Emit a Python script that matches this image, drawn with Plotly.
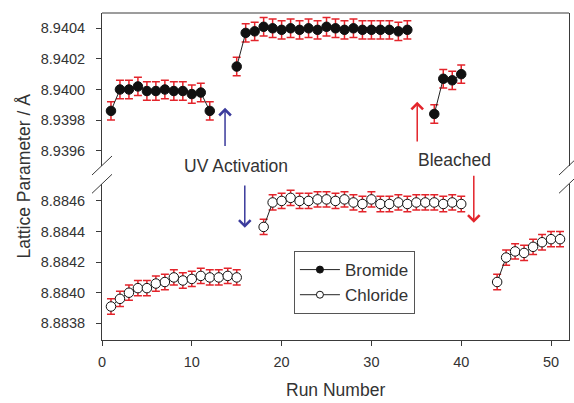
import plotly.graph_objects as go

# ---------------- data ----------------
bromide_runs = [1, 2, 3, 4, 5, 6, 7, 8, 9, 10, 11, 12, None,
                15, 16, 17, 18, 19, 20, 21, 22, 23, 24, 25, 26, 27, 28, 29, 30, 31, 32, 33, 34, None,
                37, 38, 39, 40]
bromide_lattice = [8.93986, 8.94000, 8.94000, 8.94002, 8.93999, 8.93999, 8.94000, 8.93999, 8.93999, 8.93997, 8.93998, 8.93986, None,
                   8.94015, 8.94037, 8.94038, 8.94041, 8.94040, 8.94039, 8.94040, 8.94039, 8.94040, 8.94039, 8.94041,
                   8.94040, 8.94039, 8.94040, 8.94039, 8.94039, 8.94039, 8.94039, 8.94038, 8.94039, None,
                   8.93984, 8.94007, 8.94006, 8.94010]
bromide_err = 0.00006

chloride_runs = [1, 2, 3, 4, 5, 6, 7, 8, 9, 10, 11, 12, 13, 14, 15, None,
                 18, 19, 20, 21, 22, 23, 24, 25, 26, 27, 28, 29, 30, 31, 32, 33, 34, 35, 36, 37, 38, 39, 40, None,
                 44, 45, 46, 47, 48, 49, 50, 51]
chloride_lattice = [8.88391, 8.88396, 8.88400, 8.88403, 8.88403, 8.88406, 8.88407, 8.88410, 8.88408, 8.88409,
                    8.88411, 8.88410, 8.88410, 8.88411, 8.88410, None,
                    8.88443, 8.88459, 8.88460, 8.88462, 8.88460, 8.88460, 8.88461, 8.88461, 8.88460, 8.88461,
                    8.88459, 8.88458, 8.88461, 8.88458, 8.88458, 8.88459, 8.88458, 8.88459, 8.88459, 8.88459,
                    8.88458, 8.88459, 8.88458, None,
                    8.88407, 8.88423, 8.88427, 8.88426, 8.88430, 8.88433, 8.88435, 8.88435]
chloride_err = 0.00005

x_ticks = [0, 10, 20, 30, 40, 50]
top_ticks = [8.9396, 8.9398, 8.9400, 8.9402, 8.9404]
bottom_ticks = [8.8838, 8.8840, 8.8842, 8.8844, 8.8846]

# ---------------- style ----------------
FONT = "Liberation Sans, Arial, sans-serif"
AX = "#3a3a3a"
ERR = "#e3242b"
BLUE = "#3b3b9c"
RED = "#e3242b"
TXT = "#333333"

TOP_DOM = [0.5336, 1.0]
BOT_DOM = [0.0, 0.4777]

fig = go.Figure()

fig.add_trace(go.Scatter(
    x=bromide_runs, y=bromide_lattice, xaxis="x", yaxis="y2",
    mode="lines+markers", showlegend=False,
    line=dict(color="#222222", width=1),
    marker=dict(symbol="circle", size=9.5, color="#111111", line=dict(color="#111111", width=1)),
    error_y=dict(type="constant", value=bromide_err, color=ERR, thickness=1.5, width=4),
))
fig.add_trace(go.Scatter(
    x=chloride_runs, y=chloride_lattice, xaxis="x", yaxis="y",
    mode="lines+markers", showlegend=False,
    line=dict(color="#222222", width=1),
    marker=dict(symbol="circle", size=9.5, color="white", line=dict(color="#111111", width=1)),
    error_y=dict(type="constant", value=chloride_err, color=ERR, thickness=1.5, width=4),
))

# legend-only entries
fig.add_trace(go.Scatter(x=[None], y=[None], name="Bromide", mode="lines+markers",
                         line=dict(color="#222222", width=1),
                         marker=dict(size=7, color="#111111", line=dict(color="#111111", width=1))))
fig.add_trace(go.Scatter(x=[None], y=[None], name="Chloride", mode="lines+markers",
                         line=dict(color="#222222", width=1),
                         marker=dict(size=7, color="white", line=dict(color="#111111", width=1))))

axis_common = dict(showline=True, linecolor=AX, linewidth=1, ticks="outside", ticklen=5,
                   tickcolor=AX, showgrid=False, zeroline=False,
                   tickfont=dict(family=FONT, size=14.5, color=TXT))

fig.update_layout(
    width=574, height=403,
    margin=dict(l=102, r=5, t=13, b=63),
    paper_bgcolor="white", plot_bgcolor="white",
    font=dict(family=FONT, color=TXT),
    xaxis=dict(domain=[0, 1], range=[0, 52], anchor="y", tickvals=x_ticks,
               ticklabelstandoff=4, **axis_common),
    yaxis=dict(domain=BOT_DOM, range=[8.883691, 8.884712], anchor="x", tickvals=bottom_ticks,
               tickformat=".4f", mirror=True, ticklabelstandoff=8, **axis_common),
    yaxis2=dict(domain=TOP_DOM, range=[8.939503, 8.940500], anchor="x", tickvals=top_ticks,
                tickformat=".4f", mirror=True, ticklabelstandoff=8, **axis_common),
    legend=dict(x=0.411, y=0.272, xanchor="left", yanchor="top",
                bgcolor="white", bordercolor="#555555", borderwidth=1,
                font=dict(family=FONT, size=17, color=TXT), itemwidth=40),
)

shapes = [dict(type="line", xref="paper", yref="paper", x0=0, x1=1, y0=1, y1=1,
               line=dict(color=AX, width=1))]
# axis-break slashes
for xa in (0, 1):
    for ya in (TOP_DOM[0], BOT_DOM[1]):
        shapes.append(dict(type="line", xref="paper", yref="paper",
                           xsizemode="pixel", ysizemode="pixel",
                           xanchor=xa, yanchor=ya, x0=-10, x1=10, y0=-9.5, y1=9.5,
                           line=dict(color=AX, width=1)))
fig.update_layout(shapes=shapes)

annotations = [
    # arrows
    dict(x=13.7, y=8.93988, xref="x", yref="y2", ax=13.7, ay=8.93962, axref="x", ayref="y2",
         text="", showarrow=True, arrowhead=4, arrowwidth=1.5, arrowsize=1.5, arrowcolor=BLUE),
    dict(x=15.9, y=8.884425, xref="x", yref="y", ax=15.9, ay=8.88471, axref="x", ayref="y",
         text="", showarrow=True, arrowhead=4, arrowwidth=1.5, arrowsize=1.5, arrowcolor=BLUE),
    dict(x=35.1, y=8.93992, xref="x", yref="y2", ax=35.1, ay=8.93965, axref="x", ayref="y2",
         text="", showarrow=True, arrowhead=4, arrowwidth=1.5, arrowsize=1.5, arrowcolor=RED),
    dict(x=41.4, y=8.884457, xref="x", yref="y", ax=41.4, ay=8.884775, axref="x", ayref="y",
         text="", showarrow=True, arrowhead=4, arrowwidth=1.5, arrowsize=1.5, arrowcolor=RED),
    # labels
    dict(x=14.9, y=0.532, xref="x", yref="paper", text="UV Activation", showarrow=False,
         xanchor="center", yanchor="middle", font=dict(family=FONT, size=17.5, color=TXT)),
    dict(x=39.3, y=0.5505, xref="x", yref="paper", text="Bleached", showarrow=False,
         xanchor="center", yanchor="middle", font=dict(family=FONT, size=17.5, color=TXT)),
    # axis titles
    dict(x=-0.169, y=0.5, xref="paper", yref="paper", text="Lattice Parameter / Å", textangle=-90,
         xanchor="center", yanchor="middle", showarrow=False,
         font=dict(family=FONT, size=17.5, color=TXT)),
    dict(x=0.5, y=-0.153, xref="paper", yref="paper", text="Run Number", showarrow=False,
         xanchor="center", yanchor="middle", font=dict(family=FONT, size=17.5, color=TXT)),
]
fig.update_layout(annotations=annotations)

fig.write_html("out.html", config={"displayModeBar": False},
               post_script="document.body.style.margin='0';document.body.style.padding='0';")
